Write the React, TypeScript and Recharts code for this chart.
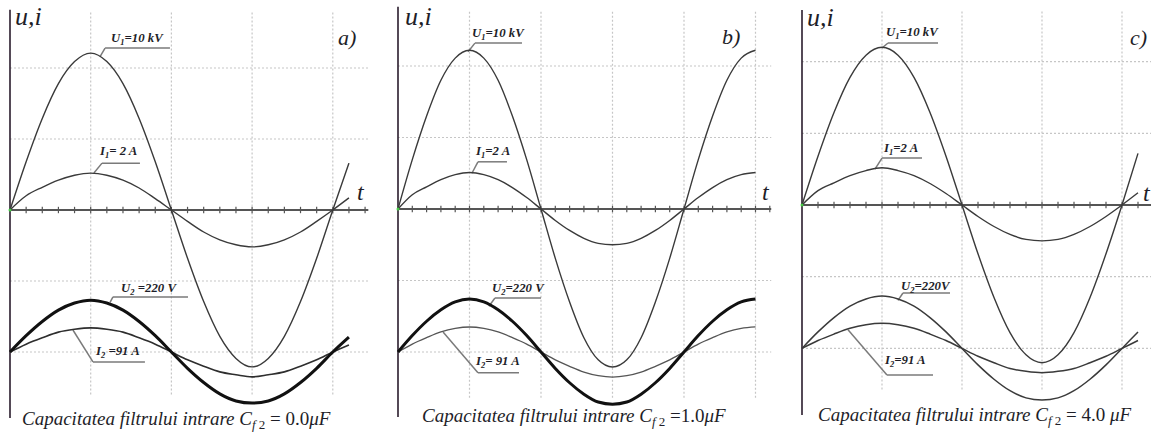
import React from "react";
import { LineChart, Line, XAxis, YAxis, ReferenceLine, ReferenceDot } from "recharts";

// ---------- data (grid units: 1 vertical division = 1, t in tick units) ----------
const tA = [0, 1, 2, 3, 4, 5, 6, 7, 8, 9, 10, 11, 12, 13, 14, 15, 16, 17, 18, 19, 20, 21];
const u1A = [0, 0.68, 1.29, 1.78, 2.09, 2.21, 2.09, 1.78, 1.29, 0.68, 0, -0.68, -1.29, -1.78, -2.09, -2.21, -2.09, -1.78, -1.29, -0.68, 0, 0.66];
const i1A = [0, 0.2, 0.32, 0.42, 0.49, 0.52, 0.49, 0.42, 0.31, 0.16, 0, -0.16, -0.31, -0.42, -0.49, -0.52, -0.49, -0.42, -0.31, -0.16, 0, 0.17];
const u2A = [-2.0, -1.77, -1.57, -1.41, -1.31, -1.27, -1.31, -1.41, -1.57, -1.77, -2.0, -2.23, -2.43, -2.59, -2.69, -2.72, -2.69, -2.59, -2.43, -2.23, -2.0, -1.79];
const i2A = [-2.0, -1.89, -1.8, -1.72, -1.68, -1.66, -1.68, -1.72, -1.8, -1.89, -2.0, -2.11, -2.2, -2.28, -2.32, -2.35, -2.32, -2.28, -2.2, -2.11, -2.0, -1.9];

const tB = [0, 1, 2, 3, 4, 5, 6, 7, 8, 9, 10, 11, 12, 13, 14, 15, 16, 17, 18, 19, 20, 21, 22, 23, 24, 25];
const u1B = [0, 0.69, 1.3, 1.8, 2.11, 2.22, 2.11, 1.8, 1.3, 0.69, 0, -0.69, -1.3, -1.8, -2.11, -2.21, -2.11, -1.8, -1.3, -0.69, 0, 0.69, 1.3, 1.8, 2.11, 2.22];
const i1B = [0, 0.2, 0.31, 0.41, 0.48, 0.51, 0.48, 0.41, 0.3, 0.16, 0, -0.16, -0.3, -0.41, -0.48, -0.5, -0.48, -0.41, -0.3, -0.16, 0, 0.16, 0.3, 0.41, 0.48, 0.51];
const u2B = [-2.0, -1.77, -1.57, -1.41, -1.3, -1.26, -1.3, -1.41, -1.57, -1.77, -2.0, -2.23, -2.43, -2.59, -2.7, -2.73, -2.7, -2.59, -2.43, -2.23, -2.0, -1.77, -1.57, -1.41, -1.3, -1.26];
const i2B = [-2.0, -1.89, -1.8, -1.72, -1.67, -1.65, -1.67, -1.72, -1.8, -1.89, -2.0, -2.11, -2.2, -2.28, -2.33, -2.35, -2.33, -2.28, -2.2, -2.11, -2.0, -1.89, -1.8, -1.72, -1.67, -1.65];

const tC = [0, 1, 2, 3, 4, 5, 6, 7, 8, 9, 10, 11, 12, 13, 14, 15, 16, 17, 18, 19, 20, 21];
const u1C = [0, 0.68, 1.29, 1.78, 2.09, 2.2, 2.09, 1.78, 1.29, 0.68, 0, -0.68, -1.29, -1.78, -2.09, -2.2, -2.09, -1.78, -1.29, -0.68, 0, 0.72];
const i1C = [0, 0.2, 0.31, 0.41, 0.48, 0.52, 0.48, 0.41, 0.3, 0.16, 0, -0.16, -0.3, -0.41, -0.48, -0.5, -0.48, -0.41, -0.3, -0.16, 0, 0.17];
const u2C = [-2.0, -1.77, -1.57, -1.41, -1.31, -1.27, -1.31, -1.41, -1.57, -1.77, -2.0, -2.23, -2.43, -2.59, -2.69, -2.72, -2.69, -2.59, -2.43, -2.23, -2.0, -1.77];
const i2C = [-2.0, -1.89, -1.8, -1.72, -1.67, -1.65, -1.67, -1.72, -1.8, -1.89, -2.0, -2.11, -2.2, -2.28, -2.32, -2.34, -2.32, -2.28, -2.2, -2.11, -2.0, -1.89];

const gridV_AC = [5, 10, 15, 20];
const gridV_B = [5, 10, 15, 20, 25];
const gridH = [2, 1, -1, -2];

const labelU1 = ["U", "1", "=10 kV"];
const labelI1A = ["I", "1", "= 2 A"];
const labelI1 = ["I", "1", "=2 A"];
const labelU2A = ["U", "2", " =220 V"];
const labelU2B = ["U", "2", "=220 V"];
const labelU2C = ["U", "2", "=220V"];
const labelI2A = ["I", "2", " =91 A"];
const labelI2B = ["I", "2", "= 91 A"];
const labelI2C = ["I", "2", "=91 A"];
const captionText = "Capacitatea filtrului intrare ";
const capValues = [" = 0.0", " =1.0", " = 4.0 "];
const panelLetters = ["a)", "b)", "c)"];

// ---------- layout ----------
const W = 1151;
const H = 434;
const FONT = "'Liberation Serif', 'Times New Roman', serif";

type Seg = [number, number][];
type PanelCfg = {
  left: number; width: number; x0: number; pxT: number; y0: number; pxV: number;
  rows: any[]; gridV: number[]; axisEnd: number; ticks: number;
  yTop: number; yBot: number; gTop: number; gBot: number;
  u2Width: number; u2Color: string; i2Color: string; i2Width: number;
  leaders: Seg[];
};

const build = (t: number[], u1: number[], i1: number[], u2: number[], i2: number[]) =>
  t.map((tt, k) => ({ t: tt, u1: u1[k], i1: i1[k], u2: u2[k], i2: i2[k] }));

const panels: PanelCfg[] = [
  {
    left: 0, width: 380, x0: 10, pxT: 16.14, y0: 210, pxV: 71,
    rows: build(tA, u1A, i1A, u2A, i2A), gridV: gridV_AC, axisEnd: 22.2, ticks: 22,
    yTop: 2.82, yBot: -2.93, gTop: 2.78, gBot: -2.6,
    u2Width: 3, u2Color: "#111", i2Color: "#2e2e2e", i2Width: 1.6,
    leaders: [
      [[5.58, 2.16], [5.89, 2.28], [9.91, 2.28]],
      [[5.2, 0.52], [5.7, 0.66], [8.05, 0.66]],
      [[6.2, -1.3], [6.38, -1.225], [11.03, -1.225]],
      [[3.9, -1.69], [5.14, -2.14], [8.36, -2.14]],
    ],
  },
  {
    left: 385, width: 390, x0: 398, pxT: 14.3, y0: 209, pxV: 71.5,
    rows: build(tB, u1B, i1B, u2B, i2B), gridV: gridV_B, axisEnd: 26.1, ticks: 26,
    yTop: 2.83, yBot: -2.91, gTop: 2.76, gBot: -2.65,
    u2Width: 3, u2Color: "#111", i2Color: "#555", i2Width: 1.3,
    leaders: [
      [[4.9, 2.2], [5.38, 2.32], [8.67, 2.32]],
      [[5.17, 0.5], [5.59, 0.66], [7.62, 0.66]],
      [[6.36, -1.36], [6.78, -1.245], [10.0, -1.245]],
      [[3.15, -1.72], [5.59, -2.29], [8.46, -2.29]],
    ],
  },
  {
    left: 780, width: 371, x0: 802, pxT: 16.0, y0: 205, pxV: 71.7,
    rows: build(tC, u1C, i1C, u2C, i2C), gridV: gridV_AC, axisEnd: 22.2, ticks: 21,
    yTop: 2.72, yBot: -2.93, gTop: 2.7, gBot: -2.6,
    u2Width: 1.5, u2Color: "#3a3a3a", i2Color: "#3a3a3a", i2Width: 1.5,
    leaders: [
      [[5.0, 2.19], [5.375, 2.26], [8.5, 2.26]],
      [[4.56, 0.5], [5.0, 0.655], [7.5, 0.655]],
      [[6.0, -1.33], [6.31, -1.227], [9.25, -1.227]],
      [[2.875, -1.74], [5.31, -2.37], [8.19, -2.37]],
    ],
  },
];

function PanelChart({ p }: { p: PanelCfg }) {
  const xDomain = [(p.left - p.x0) / p.pxT, (p.left + p.width - p.x0) / p.pxT];
  const yDomain = [(p.y0 - H) / p.pxV, p.y0 / p.pxV];
  const tickIdx = Array.from({ length: p.ticks }, (_, k) => k + 1);
  const grid = "#c6c6c6";
  return (
    <div style={{ position: "absolute", left: p.left, top: 0, width: p.width, height: H }}>
      <LineChart width={p.width} height={H} data={p.rows} margin={{ top: 0, right: 0, bottom: 0, left: 0 }}>
        <XAxis type="number" dataKey="t" domain={xDomain} allowDataOverflow hide />
        <YAxis type="number" domain={yDomain} allowDataOverflow hide />
        {p.gridV.map((g) => (
          <ReferenceLine key={"gv" + g} segment={[{ x: g, y: p.gTop }, { x: g, y: p.gBot }]} stroke={grid} strokeWidth={1.2} strokeDasharray="2 2" ifOverflow="visible" />
        ))}
        {gridH.map((g) => (
          <ReferenceLine key={"gh" + g} segment={[{ x: 0, y: g }, { x: p.axisEnd, y: g }]} stroke={grid} strokeWidth={1.2} strokeDasharray="2 2" ifOverflow="visible" />
        ))}
        <ReferenceLine segment={[{ x: 0, y: 0 }, { x: p.axisEnd, y: 0 }]} stroke="#555" strokeWidth={2} ifOverflow="visible" />
        {tickIdx.map((k) => (
          <ReferenceLine key={"tk" + k} segment={[{ x: k, y: -0.045 }, { x: k, y: 0.045 }]} stroke="#555" strokeWidth={1.2} ifOverflow="visible" />
        ))}
        <ReferenceLine segment={[{ x: 0, y: p.yTop }, { x: 0, y: p.yBot }]} stroke="#2a1c2c" strokeWidth={1.6} ifOverflow="visible" />
        {p.leaders.map((seg, si) =>
          seg.slice(1).map((pt, k) => (
            <ReferenceLine key={"ld" + si + "-" + k} segment={[{ x: seg[k][0], y: seg[k][1] }, { x: pt[0], y: pt[1] }]} stroke="#7a7a7a" strokeWidth={1.5} ifOverflow="visible" />
          ))
        )}
        <Line type="monotone" dataKey="u1" stroke="#3a3a3a" strokeWidth={1.4} dot={false} activeDot={false} isAnimationActive={false} />
        <Line type="monotone" dataKey="i1" stroke="#3a3a3a" strokeWidth={1.4} dot={false} activeDot={false} isAnimationActive={false} />
        <Line type="monotone" dataKey="i2" stroke={p.i2Color} strokeWidth={p.i2Width} dot={false} activeDot={false} isAnimationActive={false} />
        <Line type="monotone" dataKey="u2" stroke={p.u2Color} strokeWidth={p.u2Width} dot={false} activeDot={false} isAnimationActive={false} />
        <ReferenceDot x={0} y={0} r={1.5} fill="#4c4" stroke="none" ifOverflow="visible" />
      </LineChart>
    </div>
  );
}

function Lbl({ x, y, parts }: { x: number; y: number; parts: string[] }) {
  return (
    <text x={x} y={y} fontFamily={FONT} fontStyle="italic" fontWeight="bold" fontSize={12.8} fill="#1e1e28">
      {parts[0]}
      <tspan fontSize={8.5} dy={3}>{parts[1]}</tspan>
      <tspan dy={-3}>{parts[2]}</tspan>
    </text>
  );
}

function Caption({ x, y, value }: { x: number; y: number; value: string }) {
  return (
    <text x={x} y={y} fontFamily={FONT} fontSize={19} fill="#1e1e28">
      <tspan fontStyle="italic">{captionText}C</tspan>
      <tspan fontStyle="italic" fontSize={13} dy={4}>f </tspan>
      <tspan fontSize={13}>2</tspan>
      <tspan dy={-4}>{value}</tspan>
      <tspan fontStyle="italic">μF</tspan>
    </text>
  );
}

const big = { fontFamily: FONT, fontStyle: "italic" as const, fill: "#1e1e28" };

export default function App() {
  return (
    <div style={{ position: "absolute", left: 0, top: 0, width: W, height: H, background: "#fff", overflow: "hidden" }}>
      {panels.map((p, k) => (
        <PanelChart key={k} p={p} />
      ))}
      <svg width={W} height={H} style={{ position: "absolute", left: 0, top: 0, pointerEvents: "none" }}>
        {/* panel a */}
        <text x={15} y={25} fontSize={26} {...big}>u,i</text>
        <text x={338} y={45} fontSize={22} {...big}>{panelLetters[0]}</text>
        <text x={357} y={200} fontSize={24} {...big}>t</text>
        <Lbl x={111} y={42} parts={labelU1} />
        <Lbl x={100} y={155} parts={labelI1A} />
        <Lbl x={121} y={292} parts={labelU2A} />
        <Lbl x={96} y={355} parts={labelI2A} />
        <Caption x={22} y={425} value={capValues[0]} />
        {/* panel b */}
        <text x={405} y={25} fontSize={26} {...big}>u,i</text>
        <text x={722} y={44} fontSize={22} {...big}>{panelLetters[1]}</text>
        <text x={762} y={200} fontSize={24} {...big}>t</text>
        <Lbl x={472} y={37} parts={labelU1} />
        <Lbl x={476} y={155} parts={labelI1} />
        <Lbl x={492} y={292} parts={labelU2B} />
        <Lbl x={476} y={365} parts={labelI2B} />
        <Caption x={422} y={422} value={capValues[1]} />
        {/* panel c */}
        <text x={807} y={26} fontSize={26} {...big}>u,i</text>
        <text x={1130} y={45} fontSize={22} {...big}>{panelLetters[2]}</text>
        <text x={1143} y={201} fontSize={24} {...big}>t</text>
        <Lbl x={886} y={36} parts={labelU1} />
        <Lbl x={884} y={152} parts={labelI1} />
        <Lbl x={901} y={290} parts={labelU2C} />
        <Lbl x={885} y={364} parts={labelI2C} />
        <Caption x={818} y={421} value={capValues[2]} />
      </svg>
    </div>
  );
}
